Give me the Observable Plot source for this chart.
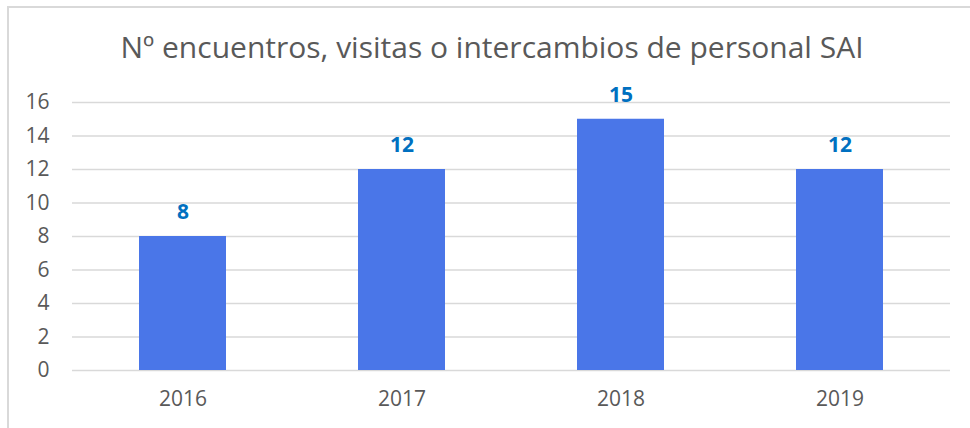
<!DOCTYPE html>
<html>
<head>
<meta charset="utf-8">
<script src="https://cdn.jsdelivr.net/npm/d3@7"></script>
<script src="https://cdn.jsdelivr.net/npm/@observablehq/plot@0.6"></script>
<style>
  html, body { margin: 0; padding: 0; background: #fff; }
  #wrap { position: relative; width: 970px; height: 428px; overflow: hidden; }
  #frame { position: absolute; left: 7px; top: 6px; width: 1000px; height: 500px;
           border-left: 2px solid #d9d9d9; border-top: 2px solid #d9d9d9; box-sizing: border-box; }
  #title { position: absolute; left: 7px; top: 0; width: 970px; height: 80px; text-align: center;
           font-family: "Open Sans", sans-serif; font-size: 30px; color: #595959; line-height: 94px; }
  #chart { position: absolute; left: 0; top: 80px; }
</style>
</head>
<body>
<div id="wrap">
  <div id="frame"></div>
  <div id="title">Nº encuentros, visitas o intercambios de personal SAI</div>
  <div id="chart"></div>
</div>
<script>
const years = ["2016", "2017", "2018", "2019"];
const values = [8, 12, 15, 12];
const yTicks = [0, 2, 4, 6, 8, 10, 12, 14, 16];

const data = years.map((y, i) => ({year: y, value: values[i]}));

const chart = Plot.plot({
  width: 970,
  height: 348,
  marginTop: 22,
  marginBottom: 58,
  marginLeft: 72,
  marginRight: 20,
  style: {fontFamily: "'Open Sans', sans-serif", fontSize: "21px", color: "#595959", background: "transparent"},
  x: {domain: years, paddingInner: 0.604, paddingOuter: 0.302, label: null},
  y: {domain: [0, 16], label: null},
  marks: [
    Plot.gridY(yTicks, {stroke: "#d9d9d9", strokeOpacity: 1, strokeWidth: 1.5}),
    Plot.barY(data, {x: "year", y: "value", fill: "#4a76e8"}),
    Plot.text(data, {x: "year", y: "value", text: d => String(d.value), dy: -24,
      fill: "#0070c0", fontWeight: "bold", fontSize: 21, lineAnchor: "middle"}),
    Plot.axisX({tickSize: 0, tickPadding: 21, fontSize: 21}),
    Plot.axisY({ticks: yTicks, tickSize: 0, tickPadding: 23, fontSize: 21})
  ]
});
document.getElementById("chart").appendChild(chart);
</script>
</body>
</html>
